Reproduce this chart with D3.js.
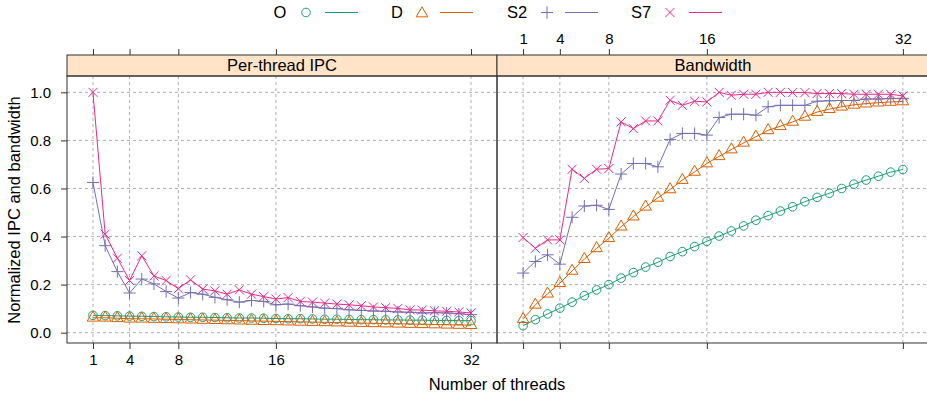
<!DOCTYPE html>
<html>
<head>
<meta charset="utf-8">
<script src="https://cdn.jsdelivr.net/npm/d3@7"></script>
<style>
    body { margin: 0; background: #fff; }
    text { font-family: "Liberation Sans", Arial, Helvetica, sans-serif; fill: #000; }
    .tick text { font-size: 15px; }
</style>
</head>
<body>
<svg id="chart" width="927" height="398"></svg>
<script>
// thread counts 1..32
var threads = d3.range(1, 33);

var xTicks = [1, 4, 8, 16, 32],
    yTicks = [0, 0.2, 0.4, 0.6, 0.8, 1.0];

var seriesNames = ['O', 'D', 'S2', 'S7'];

// per-thread IPC (normalized)
var ipcO = [0.072, 0.071, 0.070, 0.069, 0.068, 0.067, 0.066, 0.065, 0.064, 0.064, 0.063, 0.062, 0.061, 0.061, 0.060, 0.059,
    0.058, 0.058, 0.057, 0.056, 0.056, 0.055, 0.054, 0.054, 0.053, 0.053, 0.052, 0.052, 0.051, 0.051, 0.050, 0.050];
var ipcD = [0.062, 0.062, 0.060, 0.058, 0.058, 0.057, 0.056, 0.055, 0.054, 0.053, 0.052, 0.051, 0.050, 0.049, 0.048, 0.047,
    0.046, 0.045, 0.044, 0.043, 0.042, 0.041, 0.040, 0.039, 0.038, 0.037, 0.036, 0.035, 0.034, 0.033, 0.032, 0.031];
var ipcS2 = [0.625, 0.362, 0.254, 0.165, 0.223, 0.203, 0.171, 0.144, 0.167, 0.160, 0.147, 0.137, 0.127, 0.134, 0.130, 0.116,
    0.119, 0.112, 0.107, 0.102, 0.100, 0.095, 0.093, 0.090, 0.089, 0.086, 0.085, 0.082, 0.083, 0.082, 0.079, 0.075];
var ipcS7 = [1.000, 0.410, 0.310, 0.217, 0.320, 0.236, 0.217, 0.183, 0.220, 0.181, 0.174, 0.160, 0.178, 0.160, 0.150, 0.140,
    0.146, 0.130, 0.127, 0.123, 0.119, 0.116, 0.112, 0.107, 0.104, 0.101, 0.095, 0.094, 0.091, 0.089, 0.086, 0.082];

// bandwidth (normalized)
var bwO = [0.029, 0.054, 0.078, 0.102, 0.127, 0.154, 0.178, 0.200, 0.227, 0.250, 0.273, 0.293, 0.317, 0.337, 0.358, 0.380,
    0.402, 0.423, 0.444, 0.468, 0.487, 0.506, 0.524, 0.545, 0.563, 0.580, 0.600, 0.618, 0.635, 0.651, 0.668, 0.679];
var bwD = [0.056, 0.116, 0.162, 0.206, 0.257, 0.306, 0.351, 0.393, 0.441, 0.483, 0.524, 0.561, 0.596, 0.635, 0.669, 0.704,
    0.734, 0.762, 0.790, 0.815, 0.842, 0.859, 0.877, 0.898, 0.918, 0.930, 0.940, 0.948, 0.953, 0.957, 0.960, 0.962];
var bwS2 = [0.248, 0.296, 0.324, 0.285, 0.480, 0.527, 0.530, 0.513, 0.660, 0.704, 0.704, 0.690, 0.804, 0.829, 0.829, 0.822,
    0.895, 0.909, 0.909, 0.905, 0.940, 0.946, 0.946, 0.946, 0.963, 0.965, 0.966, 0.966, 0.972, 0.972, 0.974, 0.975];
var bwS7 = [0.396, 0.351, 0.386, 0.386, 0.680, 0.642, 0.680, 0.683, 0.877, 0.849, 0.881, 0.881, 0.967, 0.946, 0.963, 0.960,
    1.000, 0.988, 0.992, 0.992, 1.000, 1.000, 0.999, 0.999, 0.995, 0.995, 0.995, 0.992, 0.992, 0.992, 0.992, 0.985];

var colors = {O: '#1b9e77', D: '#d95f02', S2: '#7570b3', S7: '#e7298a'};

var panels = [
    {title: 'Per-thread IPC', x0: 67, x1: 497, data: {O: ipcO, D: ipcD, S2: ipcS2, S7: ipcS7}, labelsBottom: true},
    {title: 'Bandwidth', x0: 497, x1: 929, data: {O: bwO, D: bwD, S2: bwS2, S7: bwS7}, labelsBottom: false}
];

var panelTop = 76, panelBottom = 343, stripTop = 55;
var R = 4.3;

var svg = d3.select('#chart');

var y = d3.scaleLinear().domain([-0.043, 1.068]).range([panelBottom, panelTop]);

// draw a lattice style point symbol
function symbol(g, name, px, py, col) {
    if (name === 'O') {
        g.append('circle').attr('cx', px).attr('cy', py).attr('r', R)
            .attr('fill', 'none').attr('stroke', col).attr('stroke-width', 1);
    } else if (name === 'D') {
        var r = 1.555 * R, xc = 1.347 * R, yc = 0.778 * R;
        g.append('path')
            .attr('d', 'M' + px + ',' + (py - r) + 'L' + (px + xc) + ',' + (py + yc) + 'L' + (px - xc) + ',' + (py + yc) + 'Z')
            .attr('fill', 'none').attr('stroke', col).attr('stroke-width', 1);
    } else if (name === 'S2') {
        var s = 1.414 * R;
        g.append('path')
            .attr('d', 'M' + (px - s) + ',' + py + 'H' + (px + s) + 'M' + px + ',' + (py - s) + 'V' + (py + s))
            .attr('stroke', col).attr('stroke-width', 1);
    } else {
        var c = R * 1.05;
        g.append('path')
            .attr('d', 'M' + (px - c) + ',' + (py - c) + 'L' + (px + c) + ',' + (py + c) + 'M' + (px - c) + ',' + (py + c) + 'L' + (px + c) + ',' + (py - c))
            .attr('stroke', col).attr('stroke-width', 1);
    }
}

panels.forEach(function (p, i) {
    var x = d3.scaleLinear().domain([-1.13, 34.13]).range([p.x0, p.x1]);
    var g = svg.append('g');

    // grid
    g.selectAll('line.gx').data(xTicks).enter().append('line')
        .attr('x1', function (d) { return x(d); }).attr('x2', function (d) { return x(d); })
        .attr('y1', panelTop).attr('y2', panelBottom)
        .attr('stroke', '#b0b0b0').attr('stroke-dasharray', '3,3');
    g.selectAll('line.gy').data(yTicks).enter().append('line')
        .attr('x1', p.x0).attr('x2', p.x1)
        .attr('y1', function (d) { return y(d); }).attr('y2', function (d) { return y(d); })
        .attr('stroke', '#b0b0b0').attr('stroke-dasharray', '3,3');

    // series
    seriesNames.forEach(function (name) {
        var vals = p.data[name];
        var line = d3.line()
            .x(function (d, j) { return x(threads[j]); })
            .y(function (d) { return y(d); });
        g.append('path').datum(vals).attr('d', line)
            .attr('fill', 'none').attr('stroke', colors[name]).attr('stroke-width', 1);
        vals.forEach(function (v, j) {
            symbol(g, name, x(threads[j]), y(v), colors[name]);
        });
    });

    // strip
    g.append('rect').attr('x', p.x0).attr('y', stripTop).attr('width', p.x1 - p.x0).attr('height', panelTop - stripTop)
        .attr('fill', '#ffe4c8').attr('stroke', '#333');
    g.append('text').attr('x', (p.x0 + p.x1) / 2).attr('y', panelTop - 5)
        .attr('text-anchor', 'middle').style('font-size', '16.5px').text(p.title);

    // panel border
    g.append('rect').attr('x', p.x0).attr('y', panelTop).attr('width', p.x1 - p.x0).attr('height', panelBottom - panelTop)
        .attr('fill', 'none').attr('stroke', '#333');

    // x axes, labels alternate bottom (left panel) / top (right panel)
    var axB = d3.axisBottom(x).tickValues(xTicks).tickSize(6).tickSizeOuter(0);
    if (!p.labelsBottom) axB.tickFormat('');
    var gb = svg.append('g').attr('transform', 'translate(0,' + panelBottom + ')').call(axB);

    var axT = d3.axisTop(x).tickValues(xTicks).tickSize(6).tickSizeOuter(0);
    if (p.labelsBottom) axT.tickFormat('');
    var gt = svg.append('g').attr('transform', 'translate(0,' + stripTop + ')').call(axT);

    [gb, gt].forEach(function (a) {
        a.attr('font-size', null).attr('font-family', null);
        a.select('.domain').remove();
        a.selectAll('line').attr('stroke', '#333');
        a.selectAll('text').attr('fill', '#000');
    });
    gb.selectAll('text').attr('dy', '0.95em').attr('y', 8);
    gt.selectAll('text').attr('y', -11);

    if (i === 0) {
        var ay = d3.axisLeft(y).tickValues(yTicks).tickFormat(d3.format('.1f')).tickSize(6).tickSizeOuter(0);
        var gy = svg.append('g').attr('transform', 'translate(' + p.x0 + ',0)').call(ay);
        gy.attr('font-size', null).attr('font-family', null);
        gy.select('.domain').remove();
        gy.selectAll('line').attr('stroke', '#333');
        gy.selectAll('text').attr('fill', '#000').attr('x', -16);
    }
});

// axis titles
svg.append('text').attr('x', 497).attr('y', 390).attr('text-anchor', 'middle')
    .style('font-size', '16.5px').text('Number of threads');
svg.append('text').attr('transform', 'translate(20,210) rotate(-90)').attr('text-anchor', 'middle')
    .style('font-size', '16.5px').text('Normalized IPC and bandwidth');

// legend
var legendItems = [
    {name: 'O', tx: 280, sx: 306, lx: 325},
    {name: 'D', tx: 397, sx: 422, lx: 440},
    {name: 'S2', tx: 517, sx: 547, lx: 565},
    {name: 'S7', tx: 641, sx: 670, lx: 689}
];
var lg = svg.append('g');
legendItems.forEach(function (it) {
    lg.append('text').attr('x', it.tx).attr('y', 18).attr('text-anchor', 'middle')
        .style('font-size', '16.5px').text(it.name);
    symbol(lg, it.name, it.sx, it.name === 'D' ? 13.5 : 12.5, colors[it.name]);
    lg.append('line').attr('x1', it.lx).attr('x2', it.lx + 33).attr('y1', 12.5).attr('y2', 12.5)
        .attr('stroke', colors[it.name]).attr('stroke-width', 1);
});
</script>
</body>
</html>
